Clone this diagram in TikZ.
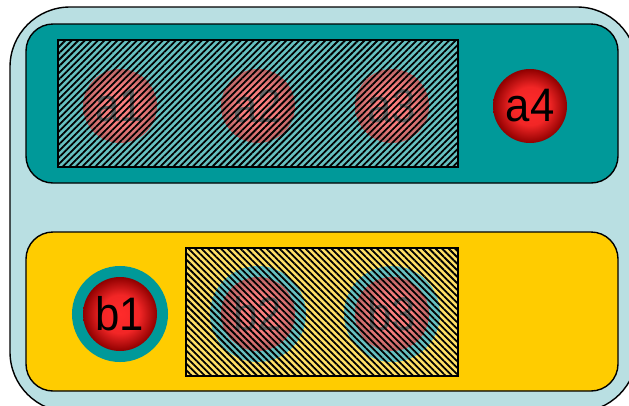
\documentclass[tikz,border=0pt]{standalone}
\usepackage{fontspec}
\setmainfont{Liberation Sans}
\usepackage{graphicx}
\usetikzlibrary{patterns.meta}
\definecolor{setteal}{HTML}{009999}
\definecolor{paleblue}{HTML}{B9DFE2}
\definecolor{setyellow}{HTML}{FFCC00}
\definecolor{ballred}{HTML}{FF2B2B}
\definecolor{balldark}{HTML}{900000}
\pgfdeclareradialshading{redball}{\pgfpoint{0bp}{0bp}}{%
  color(0bp)=(ballred); color(13bp)=(ballred!88!balldark);
  color(25bp)=(balldark); color(50bp)=(balldark)}
\newcommand\narrowtxt[1]{\scalebox{0.93}[1]{#1}}

\begin{document}
\begin{tikzpicture}[x=1pt,y=-1pt]

\tikzset{
  frame/.style={draw=black, line width=1.4pt},
  ball/.style={circle, inner sep=0pt, minimum size=74pt, shading=redball,
               font=\fontsize{47}{47}\selectfont},
  ringball/.style={ball, preaction={draw=setteal, line width=22pt}},
  hatchfill/.style={fill=white, fill opacity=0.4},
  hatchlines/.style={pattern={Lines[angle=#1, distance=4.6pt, line width=1.8pt]},
                     pattern color=black, fill opacity=0.45}}

\useasboundingbox (0,0) rectangle (629,405);

% outer universe and the two groups
\draw[frame, fill=paleblue, rounded corners=60pt] (10,7) rectangle (637,412);
\draw[frame, fill=setteal, rounded corners=27pt] (26,24) rectangle (618,183);
\draw[frame, fill=setyellow, rounded corners=27pt] (26,232) rectangle (618,391);

% group a
\node[ball] (a1) at (120,106) {\narrowtxt{a1}};
\node[ball] (a2) at (258,106) {\narrowtxt{a2}};
\node[ball] (a3) at (392,106) {\narrowtxt{a3}};
\node[ball] (a4) at (530,106) {\narrowtxt{a4}};

% group b
\node[ringball] (b1) at (120,314) {\narrowtxt{b1}};
\node[ringball] (b2) at (258,314) {\narrowtxt{b2}};
\node[ringball] (b3) at (392,314) {\narrowtxt{b3}};

% hatched selections
\fill[hatchfill] (58,40) rectangle (458,167);
\fill[hatchlines=45] (58,40) rectangle (458,167);
\draw[frame] (58,40) rectangle (458,167);

\fill[hatchfill] (186,248) rectangle (458,376);
\fill[hatchlines=-45] (186,248) rectangle (458,376);
\draw[frame] (186,248) rectangle (458,376);

\end{tikzpicture}
\end{document}
